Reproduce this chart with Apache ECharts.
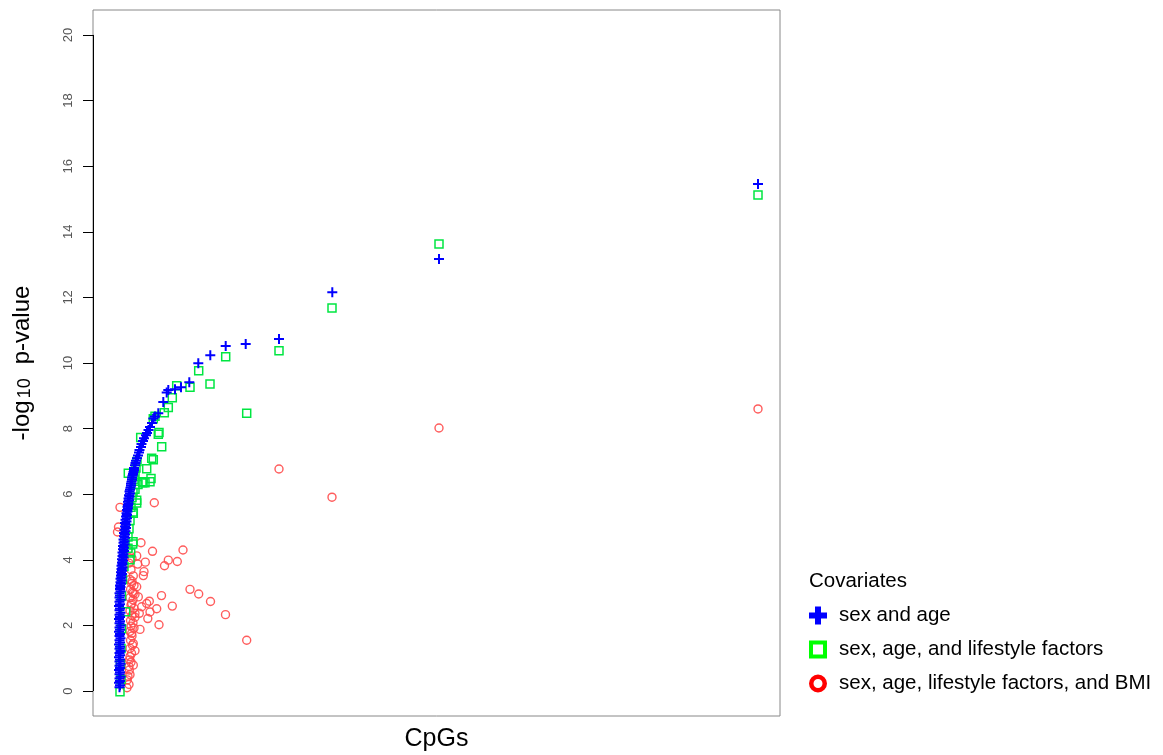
<!DOCTYPE html>
<html lang="en">
<head>
<meta charset="UTF-8">
<title>CpGs -log10 p-value</title>
<script src="https://cdn.jsdelivr.net/npm/echarts@6/dist/echarts.min.js"></script>
<style>
    html, body { margin: 0; padding: 0; background: #fff; }
    #main { width: 1163px; height: 755px; }
</style>
</head>
<body>
<div id="main"></div>
<script>
    // x = position of the CpG along the (unlabelled) x axis, y = -log10 p-value
    var xRange = [0, 687];
    var yRange = [-0.76, 20.76];
    var yTicks = [0, 2, 4, 6, 8, 10, 12, 14, 16, 18, 20];
    var seriesNames = ['sex and age', 'sex, age, and lifestyle factors', 'sex, age, lifestyle factors, and BMI'];

    // sex and age
    var sexAge = [
        [26.5,0.12],[27,0.18],[26,0.25],[27,0.31],[26.5,0.38],[27.5,0.44],[26.5,0.51],[27,0.57],[26,0.64],[27,0.70],
        [26.5,0.77],[27.5,0.83],[26.5,0.90],[27,0.96],[26,1.03],[27,1.09],[26.5,1.16],[27.5,1.22],[26.5,1.29],[27,1.35],
        [26,1.42],[27,1.48],[26.5,1.55],[27.5,1.61],[26.5,1.68],[27,1.74],[26,1.81],[27,1.87],[26.5,1.94],[27.5,2.00],
        [26.5,2.07],[27,2.13],[26,2.20],[27,2.26],[26.5,2.33],[27.5,2.39],[26.5,2.46],[27,2.52],[26,2.59],[27,2.65],
        [26.5,2.72],[27.5,2.78],[26.5,2.85],[27,2.91],[26.5,2.98],[27.5,3.04],[27,3.11],[27.5,3.17],
        [27,3.22],[28,3.27],[27.5,3.32],[28.5,3.37],[27.5,3.42],[28.5,3.47],[28,3.52],[29,3.57],[28,3.62],[29,3.67],
        [28.5,3.72],[29.5,3.77],[28.5,3.82],[29.5,3.87],[29,3.92],[30,3.97],[29,4.02],[30.5,4.07],[29.5,4.12],[30.5,4.17],
        [29.5,4.22],[31,4.27],[30,4.32],[31,4.37],[30,4.42],[31.5,4.47],[30.5,4.52],[31.5,4.57],[30.5,4.62],[32,4.67],
        [31,4.72],[32,4.77],[31,4.82],[32.5,4.87],[31.5,4.92],[33,4.97],[32,5.02],[33,5.07],[32,5.12],[33.5,5.17],
        [32.5,5.22],[34,5.27],[33,5.32],[34,5.37],[33.5,5.42],[34.5,5.47],[34,5.52],[35,5.57],[34.5,5.62],[35,5.67],
        [35.5,5.72],[35,5.77],[36,5.82],[35.5,5.87],[36.5,5.92],[36,5.97],[37,6.02],[36.5,6.08],[37,6.14],[37.5,6.20],
        [38,6.26],[38,6.32],[38.5,6.38],[39,6.44],[39,6.50],[39.5,6.56],[40,6.62],[40.5,6.68],[41,6.74],[41,6.80],
        [42,6.88],[42.5,6.95],[43,7.02],[44,7.10],[45,7.18],[46,7.27],[46.5,7.35],[48,7.44],[48.5,7.53],[50,7.62],
        [51,7.71],[53,7.80],[54,7.87],[55.5,7.96],[57,8.05],[59,8.17],[60.3,8.31],[62,8.37],[65.3,8.47],[70.3,8.81],
        [73.7,9.10],[75.3,9.18],[82,9.20],[88,9.26],[96.3,9.41],[105.3,9.99],[117.3,10.24],[132.7,10.52],[152.7,10.58],
        [186,10.73],[239.3,12.16],[346,13.17],[665,15.46]
    ];

    // sex, age, and lifestyle factors
    var sexAgeLife = [
        [27,-0.02],[28,0.35],[27.5,0.8],[28,1.3],[28.5,1.9],[32.7,2.42],[28.5,2.9],[29.5,3.4],[31,3.8],[37,4.0],
        [37.7,4.21],[35,4.35],[39.7,4.48],[40,4.55],[35,4.7],[36,4.95],[37,5.2],[40.3,5.42],[40,5.46],[38,5.6],
        [43.7,5.73],[43.7,5.82],[39,5.9],[40,6.05],[42,6.15],[45,6.3],[41,6.45],[35.3,6.64],[42,6.6],[43,6.8],
        [44,7.0],[52,6.35],[49.7,6.35],[50,6.38],[57,6.38],[58,6.48],[53.7,6.78],[58.7,7.10],[60.3,7.05],[68.7,7.45],
        [47.7,7.73],[66,7.88],[65.3,7.83],[60.3,8.30],[62,8.38],[71.3,8.48],[75.3,8.64],[79.3,8.94],[83.7,9.31],
        [97,9.26],[105.7,9.76],[117,9.36],[132.7,10.19],[153.7,8.47],[186,10.37],[239,11.68],[346,13.63],[665,15.12]
    ];

    // sex, age, lifestyle factors, and BMI
    var sexAgeLifeBmi = [
        [665,8.60],[346,8.02],[239,5.91],[186,6.77],[153.7,1.55],[132.5,2.33],[117.5,2.73],[105.7,2.96],[97,3.10],[90,4.30],
        [84.3,3.95],[75.3,3.99],[71.5,3.82],[61.3,5.74],[59.5,4.26],[48,4.52],[68.5,2.91],[79.3,2.59],[63.7,2.51],[66,2.02],
        [56.3,2.74],[53.7,2.67],[57,2.41],[48.7,2.57],[46.3,2.37],[54.8,2.21],[47,1.88],[43.7,4.12],[52.3,3.93],[44.7,3.87],
        [51,3.64],[50.3,3.52],[40.3,3.51],[38.7,1.76],[40.3,1.45],[42,1.23],[37,1.05],[40.3,0.79],[36.3,0.64],[34.3,0.34],
        [38.7,3.28],[43.7,3.18],[40.3,2.98],[45.3,2.87],[38.7,2.67],[42,2.37],
        [37,3.40],[39,3.35],[41,3.22],[37.5,3.10],[39.5,3.02],[42,2.95],[37,2.85],[40,2.78],[38,2.62],[41,2.52],
        [37,2.45],[39,2.30],[42,2.25],[37.5,2.15],[40,2.08],[38,1.98],[41,1.92],[37,1.82],[39,1.68],[37.5,1.55],
        [39.5,1.40],[37,1.30],[38.5,1.15],[36.5,0.95],[38,0.88],[36,0.75],[37,0.50],[35,0.45],[36,0.20],[34,0.10],
        [25.5,5.0],[27,5.6],[24.5,4.85],[38,3.7],[36,3.9],[39,4.05],[35,4.3]
    ];

    var plusPath = 'path://M4,0H6V4H10V6H6V10H4V6H0V4H4Z';

    var chart = echarts.init(document.getElementById('main'));
    var option = {
        animation: false,
        textStyle: { fontFamily: 'Liberation Sans, Arial, sans-serif' },
        title: {
            text: 'Covariates',
            left: 804,
            top: 566,
            textStyle: { fontSize: 20.5, fontWeight: 'normal', color: '#000' }
        },
        legend: {
            orient: 'vertical',
            left: 804,
            top: 600,
            itemWidth: 18,
            itemHeight: 18,
            itemGap: 13,
            selectedMode: false,
            textStyle: { fontSize: 20.5, color: '#000', lineHeight: 20, padding: [0, 0, 0, 7] },
            data: [
                { name: seriesNames[0], icon: 'path://M6,0H12V6H18V12H12V18H6V12H0V6H6Z',
                  itemStyle: { color: '#0000ff', borderWidth: 0, opacity: 1 } },
                { name: seriesNames[1], icon: 'path://M0,0H18V18H0ZM4,4V14H14V4Z',
                  itemStyle: { color: '#00ff00', borderWidth: 0, opacity: 1 } },
                { name: seriesNames[2], icon: 'path://M9,0A9,9,0,1,1,9,18A9,9,0,1,1,9,0ZM9,4.5A4.5,4.5,0,1,0,9,13.5A4.5,4.5,0,1,0,9,4.5Z',
                  itemStyle: { color: '#ff0000', borderWidth: 0, opacity: 1 } }
            ]
        },
        grid: {
            left: 93, right: 383, top: 10, bottom: 39,
            outerBoundsMode: 'none',
            show: true, borderColor: '#888', borderWidth: 1, backgroundColor: 'transparent'
        },
        xAxis: {
            type: 'value',
            min: xRange[0], max: xRange[1],
            name: 'CpGs',
            nameLocation: 'middle',
            nameGap: 11,
            nameTextStyle: { fontSize: 25, color: '#000' },
            axisLine: { show: false },
            axisTick: { show: false },
            axisLabel: { show: false },
            splitLine: { show: false }
        },
        yAxis: {
            type: 'value',
            min: yRange[0], max: yRange[1],
            name: '-log{sub|10}p-value',
            nameLocation: 'middle',
            nameRotate: 90,
            nameGap: 59,
            nameTextStyle: {
                fontSize: 24, color: '#000',
                rich: { sub: { fontSize: 18, verticalAlign: 'bottom', padding: [0, 14, 0, 2] } }
            },
            axisLine: { show: false },
            axisTick: { show: true, customValues: yTicks, length: 10, lineStyle: { color: '#000' } },
            axisLabel: { customValues: yTicks, rotate: 90, margin: 18, fontSize: 13, color: '#555' },
            splitLine: { show: false }
        },
        series: [
            {
                name: seriesNames[2], type: 'scatter', data: sexAgeLifeBmi,
                symbol: 'circle', symbolSize: 8,
                itemStyle: { color: 'rgba(0,0,0,0)', borderColor: '#ff4a4a', borderWidth: 1.4, opacity: 0.9 },
                emphasis: { disabled: true }, silent: true
            },
            {
                name: seriesNames[1], type: 'scatter', data: sexAgeLife,
                symbol: 'rect', symbolSize: 8,
                itemStyle: { color: 'rgba(0,0,0,0)', borderColor: '#00e641', borderWidth: 1.5, opacity: 1 },
                emphasis: { disabled: true }, silent: true
            },
            {
                name: seriesNames[0], type: 'scatter', data: sexAge,
                symbol: plusPath, symbolSize: 10,
                itemStyle: { color: '#0000ff', opacity: 1 },
                emphasis: { disabled: true }, silent: true,
                // the y axis line only runs from the first to the last tick
                markLine: {
                    silent: true, symbol: 'none', animation: false,
                    label: { show: false },
                    lineStyle: { color: '#000', width: 1, type: 'solid' },
                    data: [[{ coord: [xRange[0], yTicks[0]] }, { coord: [xRange[0], yTicks[yTicks.length - 1]] }]]
                }
            }
        ]
    };
    chart.setOption(option);
</script>
</body>
</html>
